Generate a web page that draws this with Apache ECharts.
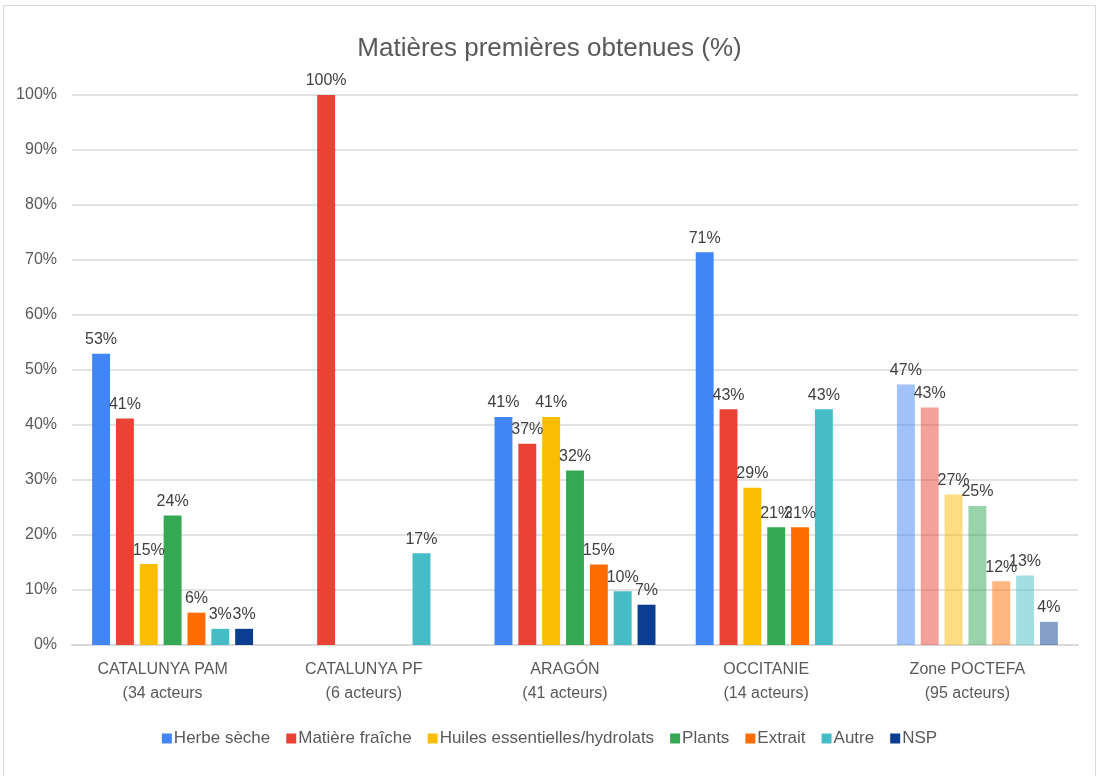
<!DOCTYPE html>
<html>
<head>
<meta charset="utf-8">
<script src="https://cdn.jsdelivr.net/npm/echarts@6/dist/echarts.min.js"></script>
<style>
  html, body { margin: 0; padding: 0; background: #fff; }
  #frame { position: absolute; left: 3px; top: 5px; width: 1093px; height: 780px; border: 1px solid #d9d9d9; box-sizing: border-box; }
  #main { position: absolute; left: 0; top: 0; width: 1099px; height: 776px; }
</style>
</head>
<body>
<div id="frame"></div>
<div id="main"></div>
<script>
// categories (region + number of actors)
var categories = ['CATALUNYA PAM\n(34 acteurs', 'CATALUNYA PF\n(6 acteurs)', 'ARAGÓN\n(41 acteurs)', 'OCCITANIE\n(14 acteurs)', 'Zone POCTEFA\n(95 acteurs)'];
var seriesNames = ['Herbe sèche', 'Matière fraîche', 'Huiles essentielles/hydrolats', 'Plants', 'Extrait', 'Autre', 'NSP'];

// % of actors per category
var herbeSeche     = [52.94, 0, 41.46, 71.43, 47.37];
var matiereFraiche = [41.18, 100, 36.59, 42.86, 43.16];
var huiles         = [14.71, 0, 41.46, 28.57, 27.37];
var plants         = [23.53, 0, 31.71, 21.43, 25.26];
var extrait        = [5.88, 0, 14.63, 21.43, 11.58];
var autre          = [2.94, 16.67, 9.76, 42.86, 12.63];
var nsp            = [2.94, 0, 7.32, 0, 4.21];

var yTicks = [0, 10, 20, 30, 40, 50, 60, 70, 80, 90, 100];

var colors = ['#4285f4', '#ea4335', '#fbbc04', '#34a853', '#ff6d01', '#46bdc6', '#0b3d91'];
var allValues = [herbeSeche, matiereFraiche, huiles, plants, extrait, autre, nsp];

var font = '"Liberation Sans", Arial, sans-serif';

var myChart = echarts.init(document.getElementById('main'));

var series = seriesNames.map(function (name, i) {
	return {
		name: name,
		type: 'bar',
		barGap: '33%',
		barCategoryGap: '20%',
		itemStyle: { color: colors[i] },
		label: {
			show: true,
			position: 'top',
			distance: 6,
			color: '#404040',
			fontFamily: font,
			fontSize: 16,
			formatter: function (p) { return p.value ? Math.round(p.value) + '%' : ''; }
		},
		data: allValues[i].map(function (v, j) {
			// the POCTEFA totals are drawn lighter
			if (j === categories.length - 1) {
				return { value: v, itemStyle: { color: echarts.color.modifyAlpha(colors[i], 0.5) } };
			}
			return v;
		})
	};
});

var option = {
	animation: false,
	textStyle: { fontFamily: font },
	title: {
		text: 'Matières premières obtenues (%)',
		left: 'center',
		top: 31,
		textStyle: { color: '#595959', fontSize: 26, fontWeight: 'normal', fontFamily: font }
	},
	legend: {
		bottom: 24,
		left: 'center',
		itemWidth: 10,
		itemHeight: 10,
		itemGap: 16,
		icon: 'rect',
		textStyle: { color: '#595959', fontSize: 17, fontFamily: font, padding: [0, 0, 0, -3] },
		data: seriesNames
	},
	grid: { left: 72, right: 21, top: 95, bottom: 131, containLabel: false },
	xAxis: {
		type: 'category',
		data: categories,
		axisTick: { show: false },
		axisLine: { lineStyle: { color: '#d9d9d9', width: 2 } },
		axisLabel: {
			color: '#595959',
			fontSize: 16,
			fontFamily: font,
			lineHeight: 24,
			margin: 13,
			padding: [0, 20, 0, 0]
		}
	},
	yAxis: {
		type: 'value',
		min: yTicks[0],
		max: yTicks[yTicks.length - 1],
		interval: 10,
		axisLine: { show: false },
		axisTick: { show: false },
		splitLine: { lineStyle: { color: '#d9d9d9', width: 1.5 } },
		axisLabel: {
			color: '#595959',
			fontSize: 16,
			fontFamily: font,
			margin: 15,
			formatter: '{value}%'
		}
	},
	series: series
};

myChart.setOption(option);
</script>
</body>
</html>
